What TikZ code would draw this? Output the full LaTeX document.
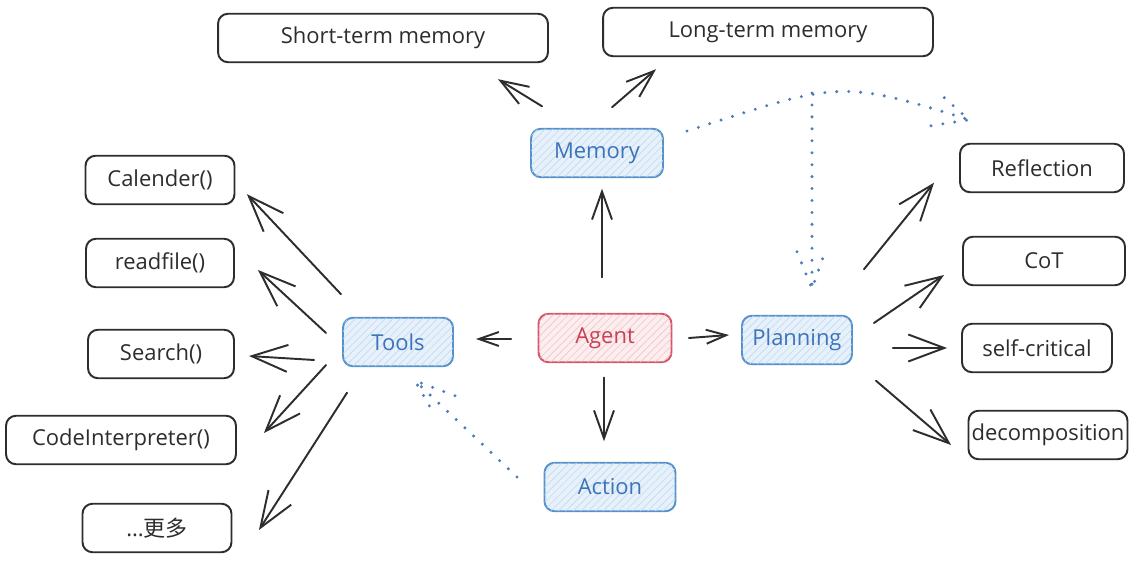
\documentclass[tikz,border=0pt]{standalone}
\usepackage{fontspec}
\setmainfont{Open Sans}
\newfontfamily\cjk{Noto Sans CJK SC}
\usepackage{tikz}
\usetikzlibrary{arrows.meta,patterns.meta}
\definecolor{ink}{RGB}{45,45,45}
\definecolor{hubblue}{RGB}{85,145,205}
\definecolor{hubbluefill}{RGB}{230,241,251}
\definecolor{hubbluetext}{RGB}{60,115,185}
\definecolor{hubred}{RGB}{215,85,105}
\definecolor{hubredfill}{RGB}{252,237,239}
\definecolor{hubredtext}{RGB}{200,65,85}
\definecolor{dotblue}{RGB}{80,125,185}

\begin{document}
\begin{tikzpicture}[
    x=0.02cm, y=-0.02cm,
    item/.style={draw=ink, line width=1.1pt, rounded corners=0.2cm, fill=white, minimum height=0.97cm, inner sep=0pt, text=ink, font=\fontsize{12.5}{14}\selectfont},
    hub/.style args={#1/#2/#3}{item, draw=#1, fill=#2, text=#3, postaction={pattern={Lines[angle=45,distance=3pt,line width=0.35pt]}, pattern color=#1!35}},
    arrL/.style={draw=ink, line width=1.1pt, line cap=round, -{Straight Barb[length=7.2mm,width=5.4mm]}},
    arrM/.style={draw=ink, line width=1.1pt, line cap=round, -{Straight Barb[length=5.6mm,width=4mm]}},
    arrS/.style={draw=ink, line width=1.1pt, line cap=round, -{Straight Barb[length=4mm,width=2.8mm]}},
    dotline/.style={draw=dotblue, line width=1.9pt, line cap=round, dash pattern=on 0pt off 6.8pt}
]
    \useasboundingbox (0,0) rectangle (1144,570);

    % Hubs
    \node[hub=hubred/hubredfill/hubredtext, minimum width=2.66cm] (agent) at (605,338) {Agent};
    \node[hub=hubblue/hubbluefill/hubbluetext, minimum width=2.64cm] (mem) at (597,153) {Memory};
    \node[hub=hubblue/hubbluefill/hubbluetext, minimum width=2.2cm] (tools) at (398,342) {Tools};
    \node[hub=hubblue/hubbluefill/hubbluetext, minimum width=2.2cm] (plan) at (797,340) {Planning};
    \node[hub=hubblue/hubbluefill/hubbluetext, minimum width=2.62cm] (action) at (610,487) {Action};

    % Memory
    \node[item, minimum width=6.6cm] (stm) at (383,38) {Short-term memory};
    \node[item, minimum width=6.6cm] (ltm) at (768,32) {Long-term memory};

    % Tools
    \node[item, minimum width=2.98cm] (cal) at (160,180) {Calender()};
    \node[item, minimum width=2.96cm] (rf) at (160,263) {readfile()};
    \node[item, minimum width=2.92cm] (search) at (161,354) {Search()};
    \node[item, minimum width=4.6cm] (code) at (121,440) {CodeInterpreter()};
    \node[item, minimum width=2.98cm] (more) at (157,528) {...{\cjk 更多}};

    % Planning
    \node[item, minimum width=3.28cm] (refl) at (1042,168) {Reflection};
    \node[item, minimum width=3.24cm] (cot) at (1044,261) {CoT};
    \node[item, minimum width=3.0cm] (selfc) at (1037,348) {self-critical};
    \node[item, minimum width=3.18cm] (decomp) at (1048,435) {decomposition};

    % Agent
    \draw[arrM] ([shift={(-3,-35.5)}]agent.north) -- ([shift={(5,10.5)}]mem.south);
    \draw[arrS] ([shift={(-26.5,1)}]agent.west) -- ([shift={(22,-3)}]tools.east);
    \draw[arrS] ([shift={(16.5,0)}]agent.east) -- ([shift={(-12,-5)}]plan.west);
    \draw[arrM] ([shift={(-1,14.5)}]agent.south) -- ([shift={(-6,-20.5)}]action.north);

    \draw[arrM] ([shift={(12,-21.5)}]mem.north west) -- ([shift={(115,16)}]stm.south);
    \draw[arrM] ([shift={(15,-20.5)}]mem.north) -- ([shift={(54,12)}]ltm.south west);

    \draw[arrL] ([shift={(-1,-22.5)}]tools.north west) -- ([shift={(11.5,-11)}]cal.south east);
    \draw[arrL] ([shift={(-16,-9)}]tools.west) -- ([shift={(23,7)}]rf.east);
    \draw[arrL] ([shift={(-28,18)}]tools.west) -- ([shift={(14,2)}]search.east);
    \draw[arrL] ([shift={(-16,23)}]tools.west) -- ([shift={(27,-7)}]code.east);
    \draw[arrL] ([shift={(5,25.5)}]tools.south west) -- ([shift={(26.5,2)}]more.east);

    \draw[arrL] ([shift={(11,-45.5)}]plan.north east) -- ([shift={(-25,-10.5)}]refl.south west);
    \draw[arrL] ([shift={(21,-17)}]plan.east) -- ([shift={(-18,14)}]cot.west);
    \draw[arrL] ([shift={(40,8)}]plan.east) -- ([shift={(-14,0)}]selfc.west);
    \draw[arrL] ([shift={(23,15.5)}]plan.south east) -- ([shift={(-16.5,10)}]decomp.west);

    % Dotted feedback
    \coordinate (memtip) at ([shift={(10,-23)}]refl.north west);
    \coordinate (split) at (812,93);
    \coordinate (plantip) at ([shift={(15,-26)}]plan.north);
    \coordinate (tooltip) at ([shift={(17,13.5)}]tools.south);
    \draw[dotline] ([shift={(23,-22)}]mem.east) .. controls (837,83) and (837,78) .. (memtip);
    \draw[dotline] ([shift={(-38,6)}]memtip) -- (memtip) -- ([shift={(-28,-25)}]memtip);
    \draw[dotline] (split) -- (plantip);
    \draw[dotline] ([shift={(-15,-37)}]plantip) -- (plantip) -- ([shift={(13,-37)}]plantip);
    \draw[dotline] ([shift={(-26.5,-10)}]action.west) -- (tooltip);
    \draw[dotline] ([shift={(40,15)}]tooltip) -- (tooltip) -- ([shift={(20,35)}]tooltip);
\end{tikzpicture}
\end{document}
